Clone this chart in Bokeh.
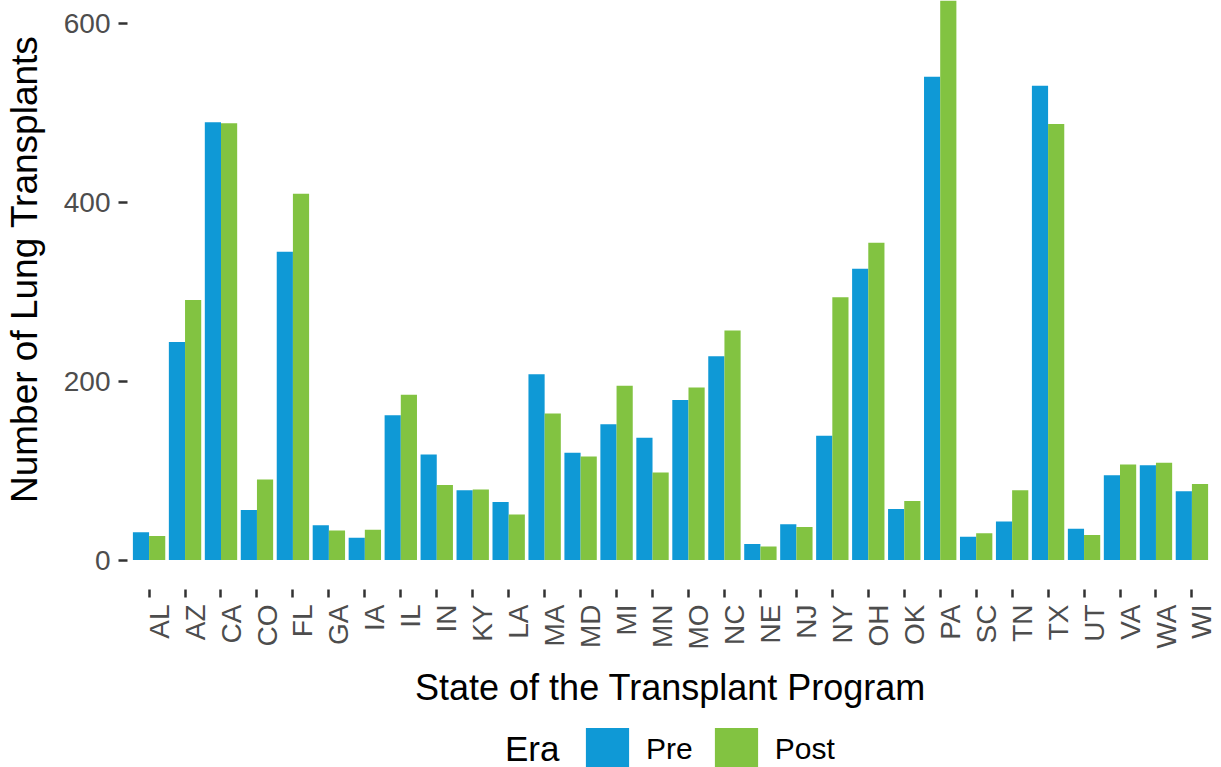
from math import pi
from bokeh.plotting import figure
from bokeh.layouts import column
from bokeh.models import (ColumnDataSource, FixedTicker, Legend, LegendItem,
                          LinearAxis, CustomJSTickFormatter, Range1d)
from bokeh.embed import file_html
from bokeh.resources import INLINE

# ---------------- data ----------------
states = ["AL", "AZ", "CA", "CO", "FL", "GA", "IA", "IL", "IN", "KY",
          "LA", "MA", "MD", "MI", "MN", "MO", "NC", "NE", "NJ", "NY",
          "OH", "OK", "PA", "SC", "TN", "TX", "UT", "VA", "WA", "WI"]
pre = [31, 244, 490, 56, 345, 39, 25, 162, 118, 78,
       65, 208, 120, 152, 137, 179, 228, 18, 40, 139,
       326, 57, 541, 26, 43, 531, 35, 95, 106, 77]
post = [27, 291, 489, 90, 410, 33, 34, 185, 84, 79,
        51, 164, 116, 195, 98, 193, 257, 15, 37, 294,
        355, 66, 670, 30, 78, 488, 28, 107, 109, 85]
era_labels = ["Pre", "Post"]
y_ticks = [0, 200, 400, 600]

BLUE = "#0F99D6"
GREEN = "#82C341"
FONT = "Liberation Sans"
DODGE = 0.225
BAR_W = 0.45
LABEL_SHIFT = 0.28
NBSP = "\u00a0"

pos = list(range(1, len(states) + 1))
src = ColumnDataSource(dict(
    x_pre=[i - DODGE for i in pos],
    x_post=[i + DODGE for i in pos],
    pre=pre, post=post,
))

# ---------------- main chart ----------------
p = figure(width=1221, height=712, output_backend="svg", toolbar_location=None,
           x_range=Range1d(0.4, 30.6), y_range=Range1d(-33.0, 626.3),
           x_axis_type=None,
           min_border_left=126, min_border_right=8, min_border_top=0,
           min_border_bottom=123)
p.outline_line_color = None
p.background_fill_color = "white"
p.border_fill_color = "white"
p.ygrid.grid_line_color = None

p.vbar(x="x_pre", top="pre", width=BAR_W, bottom=0, source=src,
       fill_color=BLUE, line_color=None)
p.vbar(x="x_post", top="post", width=BAR_W, bottom=0, source=src,
       fill_color=GREEN, line_color=None)

# y axis
ya = p.yaxis[0]
ya.ticker = FixedTicker(ticks=y_ticks)
ya.axis_line_color = None
ya.minor_tick_line_color = None
ya.major_tick_out = 9
ya.major_tick_in = 0
ya.major_tick_line_width = 2.5
ya.major_tick_line_color = "#333333"
ya.major_label_text_font = FONT
ya.major_label_text_font_size = "28px"
ya.major_label_text_color = "#4D4D4D"
ya.major_label_standoff = 8
ya.axis_label = NBSP * 5 + "Number of Lung Transplants"
ya.axis_label_text_font = FONT
ya.axis_label_text_font_size = "37px"
ya.axis_label_text_font_style = "normal"
ya.axis_label_text_color = "black"
ya.axis_label_standoff = 16

# x axis: tick marks only
ax_ticks = LinearAxis(ticker=FixedTicker(ticks=pos),
                      axis_line_color=None, minor_tick_line_color=None,
                      major_tick_out=8, major_tick_in=0,
                      major_tick_line_width=2.5, major_tick_line_color="#333333",
                      major_label_text_font_size="1px", major_label_text_color=None,
                      major_label_standoff=0)
p.add_layout(ax_ticks, "below")

# x axis: labels (offset like ggplot's rotated labels) + title
ax_labels = LinearAxis(
    ticker=FixedTicker(ticks=[i + LABEL_SHIFT for i in pos]),
    formatter=CustomJSTickFormatter(args=dict(labels=states, shift=LABEL_SHIFT),
                                    code="return labels[Math.round(tick - shift) - 1];"),
    axis_line_color=None, minor_tick_line_color=None, major_tick_line_color=None,
    major_tick_out=0, major_tick_in=0,
    major_label_orientation=pi / 2,
    major_label_text_font=FONT, major_label_text_font_size="28px",
    major_label_text_color="#4D4D4D", major_label_standoff=7,
    axis_label="State of the Transplant Program",
    axis_label_text_font=FONT, axis_label_text_font_size="36px",
    axis_label_text_font_style="normal", axis_label_text_color="black",
    axis_label_standoff=14)
p.add_layout(ax_labels, "below")

# ---------------- legend strip ----------------
# same series, drawn below the visible range; only their legend keys show
lg = figure(width=1221, height=55, output_backend="svg", toolbar_location=None,
            x_range=Range1d(0.4, 30.6), y_range=Range1d(1000, 1001),
            x_axis_type=None, y_axis_type=None,
            min_border_left=0, min_border_right=0, min_border_top=0,
            min_border_bottom=0)
lg.outline_line_color = None
lg.background_fill_color = "white"
lg.border_fill_color = "white"

k_era = lg.vbar(x="x_pre", top="pre", width=BAR_W, source=src,
                fill_alpha=0, line_alpha=0)
k_pre = lg.vbar(x="x_pre", top="pre", width=BAR_W, source=src,
                fill_color=BLUE, line_color=None)
k_post = lg.vbar(x="x_post", top="post", width=BAR_W, source=src,
                 fill_color=GREEN, line_color=None)

leg_title = Legend(items=[LegendItem(label="Era", renderers=[k_era])],
                   location=(377, -9), orientation="horizontal",
                   label_text_font=FONT, label_text_font_size="35px",
                   label_text_color="black",
                   glyph_width=1, glyph_height=54, label_standoff=0,
                   padding=0, margin=0, border_line_color=None,
                   background_fill_alpha=0)
leg_items = Legend(items=[LegendItem(label=era_labels[0], renderers=[k_pre]),
                          LegendItem(label=era_labels[1], renderers=[k_post])],
                   location=(453, -9), orientation="horizontal",
                   label_text_font=FONT, label_text_font_size="30px",
                   label_text_color="black",
                   glyph_width=54, glyph_height=54, label_standoff=12, spacing=16,
                   padding=0, margin=0, border_line_color=None,
                   background_fill_alpha=0)
lg.add_layout(leg_title, "center")
lg.add_layout(leg_items, "center")

layout = column(p, lg, spacing=0)
open("out.html", "w").write(file_html(layout, INLINE))
